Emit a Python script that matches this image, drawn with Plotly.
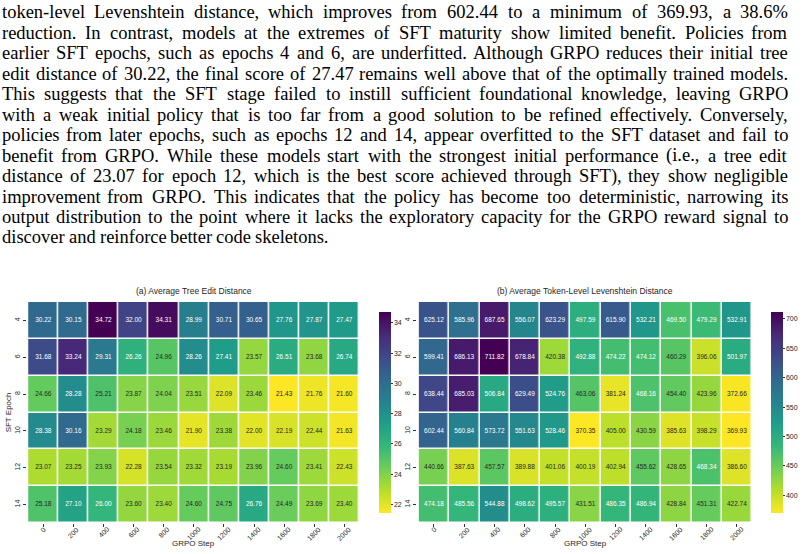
import plotly.graph_objects as go
import plotly.colors as pc

W, H = 808, 554

grpo_steps = ["0", "200", "400", "600", "800", "1000", "1200", "1400", "1600", "1800", "2000"]
sft_epochs = ["4", "6", "8", "10", "12", "14"]

tree_edit = [
    [30.22, 30.15, 34.72, 32.00, 34.31, 28.99, 30.71, 30.65, 27.76, 27.87, 27.47],
    [31.68, 33.24, 29.31, 26.26, 24.96, 28.26, 27.41, 23.57, 26.51, 23.68, 26.74],
    [24.66, 28.28, 25.21, 23.87, 24.04, 23.51, 22.09, 23.46, 21.43, 21.76, 21.60],
    [28.38, 30.16, 23.29, 24.18, 23.46, 21.90, 23.38, 22.00, 22.19, 22.44, 21.63],
    [23.07, 23.25, 23.93, 22.28, 23.54, 23.32, 23.19, 23.96, 24.60, 23.41, 22.43],
    [25.18, 27.10, 26.00, 23.60, 23.40, 24.60, 24.75, 26.76, 24.49, 23.69, 23.40],
]

levenshtein = [
    [625.12, 585.96, 687.65, 556.07, 623.29, 497.59, 615.90, 532.21, 469.50, 479.29, 532.91],
    [599.41, 686.13, 711.82, 678.84, 420.38, 492.88, 474.22, 474.12, 460.29, 396.06, 501.97],
    [638.44, 685.03, 506.84, 629.49, 524.76, 463.06, 381.24, 468.16, 454.40, 423.96, 372.66],
    [602.44, 560.84, 573.72, 551.63, 528.46, 370.35, 405.00, 430.59, 385.63, 398.29, 369.93],
    [440.66, 387.63, 457.57, 389.88, 401.06, 400.19, 402.94, 455.62, 428.65, 468.34, 386.60],
    [474.18, 485.56, 544.88, 498.62, 495.57, 431.51, 486.35, 486.94, 428.84, 451.31, 422.74],
]

paragraph_lines = [
    "token-level Levenshtein distance, which improves from 602.44 to a minimum of 369.93, a 38.6%",
    "reduction. In contrast, models at the extremes of SFT maturity show limited benefit. Policies from",
    "earlier SFT epochs, such as epochs 4 and 6, are underfitted. Although GRPO reduces their initial tree",
    "edit distance of 30.22, the final score of 27.47 remains well above that of the optimally trained models.",
    "This suggests that the SFT stage failed to instill sufficient foundational knowledge, leaving GRPO",
    "with a weak initial policy that is too far from a good solution to be refined effectively. Conversely,",
    "policies from later epochs, such as epochs 12 and 14, appear overfitted to the SFT dataset and fail to",
    "benefit from GRPO. While these models start with the strongest initial performance (i.e., a tree edit",
    "distance of 23.07 for epoch 12, which is the best score achieved through SFT), they show negligible",
    "improvement from GRPO. This indicates that the policy has become too deterministic, narrowing its",
    "output distribution to the point where it lacks the exploratory capacity for the GRPO reward signal to",
    "discover and reinforce better code skeletons.",
]

# ---- Times metrics (per 1000 em) used to justify the paragraph ----
TW = {' ': 250, '!': 333, '%': 833, '(': 333, ')': 333, ',': 250, '-': 333, '.': 250,
      ':': 278, ';': 278, '?': 444}
for d in "0123456789":
    TW[d] = 500
upper = dict(A=722, B=667, C=667, D=722, E=611, F=556, G=722, H=722, I=333, J=389, K=722,
             L=611, M=889, N=722, O=722, P=556, Q=722, R=667, S=556, T=611, U=722, V=722,
             W=944, X=722, Y=722, Z=611)
lower = dict(a=444, b=500, c=444, d=500, e=444, f=333, g=500, h=500, i=278, j=278, k=500,
             l=278, m=778, n=500, o=500, p=500, q=500, r=333, s=389, t=278, u=500, v=500,
             w=722, x=500, y=500, z=444)
TW.update(upper)
TW.update(lower)


def tw(s, fs):
    return sum(TW.get(ch, 500) for ch in s) * fs / 1000.0


FS = 18.5
X0, X1 = 2.5, 801.0
Y_FIRST, PITCH = 12.5, 20.45
SERIF = "Liberation Serif"

annotations = []
n_lines = len(paragraph_lines)
for li, line in enumerate(paragraph_lines):
    words = line.split(" ")
    yc = Y_FIRST + li * PITCH
    widths = [tw(w_, FS) for w_ in words]
    justify = li < n_lines - 1 and len(words) > 1
    gap = ((X1 - X0) - sum(widths)) / (len(words) - 1) if justify else tw(" ", FS)
    x = X0
    for k, (w_, wd) in enumerate(zip(words, widths)):
        if k == 0:
            ax, anc = x, "left"
        elif justify and k == len(words) - 1:
            ax, anc = X1, "right"
        elif justify:
            ax, anc = x + wd / 2, "center"
        else:
            ax, anc = x, "left"
        annotations.append(dict(
            text=w_, x=ax / W, y=1 - yc / H, xref="paper", yref="paper",
            xanchor=anc, yanchor="middle", showarrow=False,
            font=dict(family=SERIF, size=FS, color="#000000"),
            borderpad=0, borderwidth=0,
        ))
        x += wd + gap

vir = pc.sequential.Viridis


def hex2rgb(h):
    h = h.lstrip("#")
    return [int(h[i:i + 2], 16) / 255.0 for i in (0, 2, 4)]


stops = [hex2rgb(c) for c in vir]


def vir_r(t):
    u = 1 - t
    n = len(stops) - 1
    p = min(max(u, 0), 1) * n
    i = min(int(p), n - 1)
    f = p - i
    return [stops[i][k] * (1 - f) + stops[i + 1][k] * f for k in range(3)]


def lum(rgb):
    lin = [c / 12.92 if c <= 0.03928 else ((c + 0.055) / 1.055) ** 2.4 for c in rgb]
    return 0.2126 * lin[0] + 0.7152 * lin[1] + 0.0722 * lin[2]


SANS = "Liberation Sans, Arial"
fig = go.Figure()


def add_panel(z, fmt, xa, ya, cb_x, cb_dtick, title, title_x, show_ytitle):
    vmin = min(min(r) for r in z)
    vmax = max(max(r) for r in z)
    fig.add_trace(go.Heatmap(
        z=z, x=grpo_steps, y=sft_epochs, xaxis=xa, yaxis=ya,
        colorscale="Viridis", reversescale=True, zmin=vmin, zmax=vmax,
        xgap=1.5, ygap=1.5, hoverinfo="skip",
        colorbar=dict(x=cb_x / W, xanchor="left", xref="paper", y=1 - 412.5 / H, yanchor="middle",
                      len=221 / H, lenmode="fraction", thickness=12, outlinewidth=0,
                      ticks="outside", ticklen=2, tickwidth=0.8, tickcolor="#333",
                      dtick=cb_dtick, tickfont=dict(family=SANS, size=7, color="#262626")),
    ))
    xs, ys, ts, cs = [], [], [], []
    for i, ep in enumerate(sft_epochs):
        for j, st in enumerate(grpo_steps):
            v = z[i][j]
            t = (v - vmin) / (vmax - vmin)
            xs.append(st)
            ys.append(ep)
            ts.append(fmt.format(v))
            cs.append("#262626" if lum(vir_r(t)) > 0.408 else "#ffffff")
    fig.add_trace(go.Scatter(
        x=xs, y=ys, text=ts, mode="text", xaxis=xa, yaxis=ya, hoverinfo="skip",
        textfont=dict(family=SANS, size=6.5, color=cs), showlegend=False,
    ))
    # rotated x tick labels centred under their ticks
    for j, st in enumerate(grpo_steps):
        bh = (len(st) * 3.9 + 6) * 0.707
        annotations.append(dict(text=st, x=j, xref=xa, y=1 - (526 + bh / 2) / H, yref="paper",
                                xanchor="center", yanchor="middle", showarrow=False, textangle=-45,
                                font=dict(family=SANS, size=7, color="#262626")))
    annotations.append(dict(text=title, x=title_x / W, y=1 - 291 / H, xref="paper", yref="paper",
                            xanchor="center", yanchor="middle", showarrow=False,
                            font=dict(family=SANS, size=8.5, color="#262626")))
    annotations.append(dict(text="GRPO Step", x=title_x / W, y=1 - 543.5 / H, xref="paper", yref="paper",
                            xanchor="center", yanchor="middle", showarrow=False,
                            font=dict(family=SANS, size=8, color="#262626")))
    if show_ytitle:
        annotations.append(dict(text="SFT Epoch", x=9 / W, y=1 - 412.5 / H, xref="paper", yref="paper",
                                xanchor="center", yanchor="middle", showarrow=False, textangle=-90,
                                font=dict(family=SANS, size=8, color="#262626")))


add_panel(tree_edit, "{:.2f}", "x", "y", 375, 2, "(a) Average Tree Edit Distance", 197, True)
add_panel(levenshtein, "{:.2f}", "x2", "y2", 773, 50, "(b) Average Token-Level Levenshtein Distance", 595, False)

y_dom = [1 - 523 / H, 1 - 302 / H]
ax_common = dict(showgrid=False, zeroline=False, showline=False, ticks="outside", ticklen=3,
                 tickwidth=0.8, tickcolor="#333", type="category",
                 tickfont=dict(family=SANS, size=7, color="#262626"))

fig.update_layout(
    width=W, height=H, margin=dict(l=0, r=0, t=0, b=0),
    paper_bgcolor="white", plot_bgcolor="white", showlegend=False,
    xaxis=dict(domain=[27 / W, 367 / W], anchor="y", showticklabels=False, **ax_common),
    yaxis=dict(domain=y_dom, anchor="x", autorange="reversed", tickangle=-90, **ax_common),
    xaxis2=dict(domain=[424 / W, 766 / W], anchor="y2", showticklabels=False, **ax_common),
    yaxis2=dict(domain=y_dom, anchor="x2", autorange="reversed", tickangle=-90, **ax_common),
    annotations=annotations,
)

fig.write_html("out.html")
